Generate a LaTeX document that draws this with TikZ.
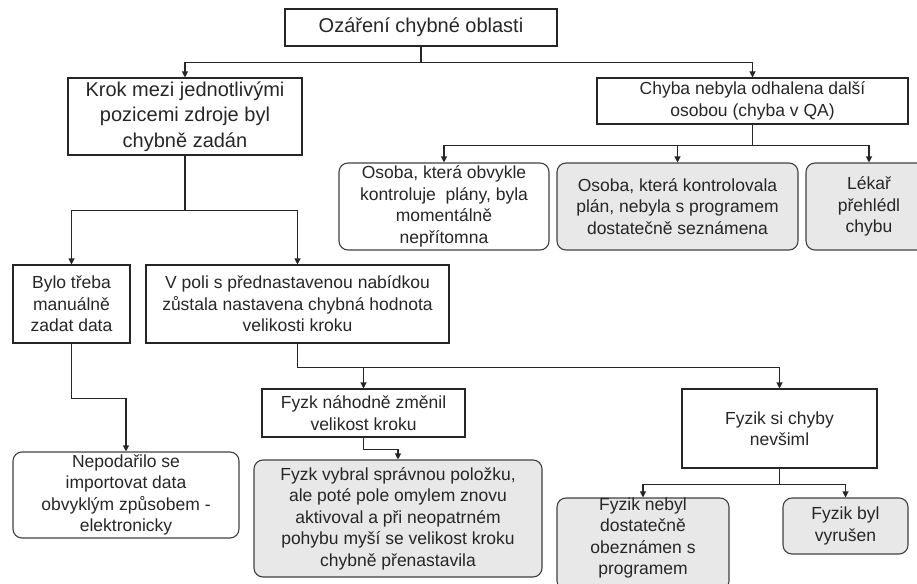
\documentclass[tikz,border=0pt]{standalone}
\usepackage{fontspec}
\setmainfont{Liberation Sans}
\usetikzlibrary{arrows.meta}
\newcommand{\fsmain}{\fontsize{17.5}{21.5}\selectfont}
\newcommand{\fsbig}{\fontsize{20}{25.5}\selectfont}
\begin{document}
\begin{tikzpicture}[x=1pt,y=-1pt,
  sqbox/.style={draw=black!85, line width=1.1pt, inner sep=0pt, align=center, font=\fsmain, text=black!85},
  rbox/.style={sqbox, rounded corners=9pt, draw=black!75},
  gbox/.style={rbox, fill=gray!18},
  conn/.style={draw=black!85, line width=1.1pt, -{Triangle[width=6pt,length=6pt]}}]
\useasboundingbox (0,0) rectangle (917,583);
\clip (0,0) rectangle (917,583);
\node[sqbox, font=\fsbig, minimum width=272pt, minimum height=37pt] (top) at (421,27.5) {Ozáření chybné oblasti};
\node[sqbox, font=\fsbig, minimum width=234pt, minimum height=77pt] (krok) at (185,116.5) {Krok mezi jednotlivými\\pozicemi zdroje byl\\chybně zadán};
\node[sqbox, minimum width=311pt, minimum height=46pt] (chyba) at (752.5,101) {Chyba nebyla odhalena další\\osobou (chyba v QA)};
\node[rbox, minimum width=210pt, minimum height=87pt] (osoba1) at (444,206.5) {Osoba, která obvykle\\kontroluje\ \ plány, byla\\momentálně\\nepřítomna};
\node[gbox, minimum width=241pt, minimum height=87pt] (osoba2) at (677.5,206.5) {Osoba, která kontrolovala\\plán, nebyla s programem\\dostatečně seznámena};
\node[gbox, minimum width=126pt, minimum height=87pt] (lekar) at (869,206.5) {Lékař\\přehlédl\\chybu};
\node[sqbox, minimum width=117pt, minimum height=78pt] (bylo) at (71.5,304) {Bylo třeba\\manuálně\\zadat data};
\node[sqbox, minimum width=303pt, minimum height=78pt] (vpoli) at (297.5,304) {V poli s přednastavenou nabídkou\\zůstala nastavena chybná hodnota\\velikosti kroku};
\node[rbox, minimum width=226pt, minimum height=86pt] (nep) at (126,495) {Nepodařilo se\\importovat data\\obvyklým způsobem -\\elektronicky};
\node[sqbox, minimum width=203pt, minimum height=48pt] (fyzn) at (363.5,413) {Fyzk náhodně změnil\\velikost kroku};
\node[gbox, minimum width=288pt, minimum height=117pt] (vybral) at (398,518.5) {Fyzk vybral správnou položku,\\ale poté pole omylem znovu\\aktivoval a při neopatrném\\pohybu myší se velikost kroku\\chybně přenastavila};
\node[sqbox, minimum width=195pt, minimum height=79pt] (fyzsi) at (779.5,428.5) {Fyzik si chyby\\nevšiml};
\node[gbox, minimum width=172pt, minimum height=92pt] (fnebyl) at (643,544) {};
\node[align=center, font=\fsmain, text=black!85, inner sep=0pt] (fnebyltext) at (643,538) {Fyzik nebyl\\dostatečně\\obeznámen s\\programem};
\node[gbox, minimum width=125pt, minimum height=56pt] (vyrusen) at (845.5,526) {Fyzik byl\\vyrušen};
\draw[conn] (top.south) -- ++(0,16) -| (krok.north);
\draw[conn] (top.south) -- ++(0,16) -| (chyba.north);
\draw[conn] (chyba.south) -- ++(0,21) -| (osoba1.north);
\draw[conn] (chyba.south) -- ++(0,21) -| (osoba2.north);
\draw[conn] (chyba.south) -- ++(0,21) -| (lekar.north);
\draw[conn] (krok.south) -- ++(0,55) -| (bylo.north);
\draw[conn] (krok.south) -- ++(0,55) -| (vpoli.north);
\draw[conn] (bylo.south) -- ++(0,55) -| (nep.north);
\draw[conn] (vpoli.south) -- ++(0,24) -| (fyzn.north);
\draw[conn] (vpoli.south) -- ++(0,24) -| (fyzsi.north);
\draw[conn] (fyzn.south) -- ++(0,12) -| (vybral.north);
\draw[conn] (fyzsi.south) -- ++(0,16) -| (fnebyl.north);
\draw[conn] (fyzsi.south) -- ++(0,16) -| (vyrusen.north);
\end{tikzpicture}
\end{document}
